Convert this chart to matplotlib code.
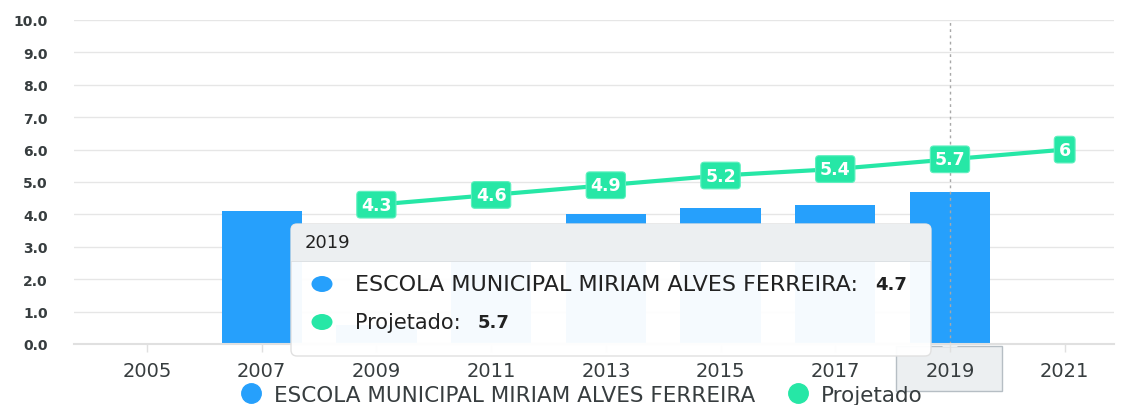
import numpy as np
import matplotlib
matplotlib.use("Agg")
from matplotlib import pyplot as plt
from matplotlib.patches import FancyBboxPatch, Rectangle, Ellipse, Polygon
from matplotlib.lines import Line2D
from matplotlib.transforms import IdentityTransform

years = ['2005', '2007', '2009', '2011', '2013', '2015', '2017', '2019', '2021']
escola = [np.nan, 4.1, 0.6, 3.5, 4.0, 4.2, 4.3, 4.7, np.nan]
projetado = [np.nan, np.nan, 4.3, 4.6, 4.9, 5.2, 5.4, 5.7, 6]
escola_name = 'ESCOLA MUNICIPAL MIRIAM ALVES FERREIRA'
proj_name = 'Projetado'
hover = 7  # index of 2019

blue = '#26a0fc'
green = '#26e7a6'
W, H = 1126, 406

plt.rcParams['font.family'] = 'DejaVu Sans'
fig = plt.figure(figsize=(W / 100, H / 100), dpi=100)
ax = fig.add_axes([74 / W, 1 - 345 / H, (1114 - 74) / W, (345 - 21) / H])
ax.set_axisbelow(True)

x = np.arange(len(years))
ax.bar(x, escola, width=0.7, color=blue, zorder=2)
ax.plot(x, projetado, color=green, lw=3, zorder=3, solid_capstyle='round')
for xi, v in zip(x, projetado):
  if np.isnan(v):
    continue
  lab = '{:g}'.format(v)
  ax.text(xi, v, lab, ha='center', va='center', color='white', fontsize=12.5,
          fontweight='bold', zorder=4,
          bbox=dict(boxstyle='round,pad=0.25,rounding_size=0.2', fc=green, ec='#5ef0bf', lw=0.8))

ax.axvline(hover, color='#a8a8a8', lw=1, ls=(0, (2, 2.5)), zorder=2.5)

ax.set_xlim(-0.636, 8.43)
ax.set_ylim(0, 10)
ax.set_yticks(np.arange(0, 11, 1))
ax.set_yticklabels(['{:.1f}'.format(v) for v in range(11)])
ax.set_xticks(x)
ax.set_xticklabels(years)
ax.grid(axis='y', color='#e6e6e6', lw=1)
for s in ['top', 'right', 'left']:
  ax.spines[s].set_visible(False)
ax.spines['bottom'].set_color('#e0e0e0')
ax.spines['bottom'].set_linewidth(1.5)
ax.tick_params(axis='y', length=0, pad=19, labelsize=10, labelcolor='#373d3f')
ax.tick_params(axis='x', length=6, width=1, color='#e0e0e0', pad=6, labelsize=14, labelcolor='#373d3f')
for t in ax.get_yticklabels():
  t.set_fontweight('bold')

idt = IdentityTransform()
def P(px, py):
  return px, H - py

# crosshair label under the hovered year
cx0, cy0 = P(896, 392)
ax.add_patch(Rectangle((cx0, cy0), 106, 45, transform=idt, fc='#eceff1', ec='#b6bec4', lw=1,
                       clip_on=False, zorder=0.4))
ax.add_patch(Polygon([P(942, 348), P(958, 348), P(950, 341)], closed=True, transform=idt,
                     fc='#eceff1', ec='none', clip_on=False, zorder=0.45))

# tooltip
tx0, ty0 = P(291, 357)
ax.add_patch(FancyBboxPatch((tx0, ty0), 640, 132, boxstyle='round,pad=0,rounding_size=6',
                            transform=idt, fc='white', alpha=0.96, ec='none', clip_on=False, zorder=10))
ax.add_patch(FancyBboxPatch((tx0, ty0), 640, 132, boxstyle='round,pad=0,rounding_size=6',
                            transform=idt, fc='none', ec='#e0e0e0', lw=1, clip_on=False, zorder=10.5))
hx0, hy0 = P(291, 262)
ax.add_patch(FancyBboxPatch((hx0, hy0), 640, 37, boxstyle='round,pad=0,rounding_size=6',
                            transform=idt, fc='#eceff1', ec='none', clip_on=False, zorder=11))
ax.add_patch(Rectangle((hx0, hy0), 640, 12, transform=idt, fc='#eceff1', ec='none',
                       clip_on=False, zorder=11))
ax.add_patch(Rectangle((hx0, hy0 - 1), 640, 1, transform=idt, fc='#dde1e4', ec='none',
                       clip_on=False, zorder=11))
ax.text(*P(305, 243), years[hover], transform=idt, fontsize=13, color='#222222',
        va='center', ha='left', zorder=12)

rows = [(escola_name, escola[hover], blue, 285, 16), (proj_name, projetado[hover], green, 323, 15)]
for name, val, col, ry, fs in rows:
  ax.add_patch(Ellipse(P(322, ry), 21, 16, transform=idt, fc=col, ec='none',
                       clip_on=False, zorder=12))
  t = ax.text(*P(355, ry), name + ':', transform=idt, fontsize=fs, color='#222222',
              va='center', ha='left', zorder=12)
  fig.canvas.draw()
  bb = t.get_window_extent()
  ax.text(bb.x1 + 17, H - ry, '{:g}'.format(val), transform=idt, fontsize=13,
          fontweight='bold', color='#222222', va='center', ha='left', zorder=12)

# legend
handles = [Line2D([], [], ls='none', marker='o', ms=14, color=blue, label=escola_name),
           Line2D([], [], ls='none', marker='o', ms=14, color=green, label=proj_name)]
fig.legend(handles=handles, loc='center', bbox_to_anchor=(576 / W, 1 - 396 / H), ncol=2,
           frameon=False, fontsize=15.5, handletextpad=0.05, columnspacing=1.0,
           labelcolor='#373d3f', borderaxespad=0, borderpad=0)

fig.savefig('out.png', dpi=100)
